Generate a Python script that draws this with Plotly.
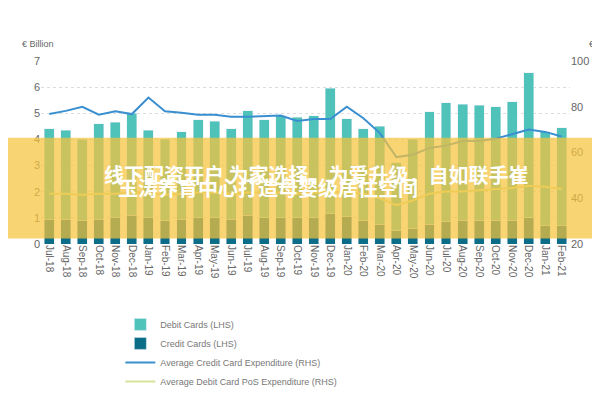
import plotly.graph_objects as go

months = ["Jul-18","Aug-18","Sep-18","Oct-18","Nov-18","Dec-18","Jan-19","Feb-19","Mar-19","Apr-19","May-19","Jun-19",
          "Jul-19","Aug-19","Sep-19","Oct-19","Nov-19","Dec-19","Jan-20","Feb-20","Mar-20","Apr-20","May-20","Jun-20",
          "Jul-20","Aug-20","Sep-20","Oct-20","Nov-20","Dec-20","Jan-21","Feb-21"]
total = [4.4,4.35,4.0,4.6,4.65,5.0,4.35,4.0,4.3,4.75,4.7,4.4,5.1,4.75,4.9,4.85,4.9,5.95,4.8,4.4,4.5,3.1,4.0,5.05,
         5.4,5.35,5.3,5.25,5.45,6.55,4.3,4.45]
credit = [0.95,0.95,0.9,0.95,1.0,1.1,1.0,0.9,0.95,1.0,1.0,0.95,1.1,1.0,1.0,1.0,1.0,1.15,1.05,0.9,0.75,0.5,0.6,0.75,
          0.85,0.9,0.9,0.9,0.9,1.0,0.7,0.7]
debit = [round(t - c, 2) for t, c in zip(total, credit)]
credit_exp = [76.8,78.2,80,76.5,78,76.8,84,78,77.4,76.5,76.5,75.6,75.6,75.8,76.2,73.8,74.6,74.6,80,75,68.5,58,59,62,
              63,65,65,66,68,70,69,67]
debit_exp = [42,42,41.5,42,42,42.5,42,41.5,42,42.5,42.5,42,42.5,42.5,42.5,42,42.5,43,42.5,42,40,37,39,42,
             43,43,43.5,44,44.5,45.5,45,44]

fig = go.Figure()
fig.add_bar(x=months, y=credit, name="Credit Cards (LHS)", marker_color="#0b6d88", width=0.6, legendrank=2)
fig.add_bar(x=months, y=debit, name="Debit Cards (LHS)", marker_color="#4fc2ba", width=0.6, legendrank=1)
fig.add_scatter(x=months, y=credit_exp, name="Average Credit Card Expenditure (RHS)", yaxis="y2",
                mode="lines", line=dict(color="#3a8fd0", width=2), legendrank=3)
fig.add_scatter(x=months, y=debit_exp, name="Average Debit Card PoS Expenditure (RHS)", yaxis="y2",
                mode="lines", line=dict(color="#d8e39a", width=2), legendrank=4)

fig.add_shape(type="rect", xref="paper", yref="paper", x0=-0.1, x1=1.1, y0=0.03, y1=0.58,
              fillcolor="rgba(247,196,60,0.72)", line_width=0, layer="above")
fig.add_annotation(text="<b>线下配资开户 为家选择、为爱升级，自如联手崔</b>", xref="paper", yref="paper", x=0.52, y=0.38,
                   showarrow=False, font=dict(family="Noto Sans CJK SC", size=20, color="white"))
fig.add_annotation(text="<b>玉涛养育中心打造母婴级居住空间</b>", xref="paper", yref="paper", x=0.43, y=0.22,
                   showarrow=False, font=dict(family="Noto Sans CJK SC", size=20, color="white"))
fig.add_annotation(text="€ Billion", xref="paper", yref="paper", x=-0.04, y=1.13, xanchor="left",
                   showarrow=False, font=dict(size=9, color="#666"))
fig.add_annotation(text="€", xref="paper", yref="paper", x=1.05, y=1.13, xanchor="right",
                   showarrow=False, font=dict(size=9, color="#666"))

fig.update_layout(
    width=600, height=400, barmode="stack", bargap=0.4,
    margin=dict(l=33, r=38, t=53, b=134),
    plot_bgcolor="white", paper_bgcolor="white",
    font=dict(family="Liberation Sans", color="#666"),
    xaxis=dict(tickangle=90, tickfont=dict(size=10), showgrid=False, ticks="", automargin=False),
    yaxis=dict(range=[0, 7], dtick=1, showgrid=True, gridcolor="#ddd", griddash="dot", zeroline=False,
               tickfont=dict(size=11), automargin=False),
    yaxis2=dict(range=[20, 100], dtick=20, overlaying="y", side="right", showgrid=False, tickfont=dict(size=11),
                automargin=False),
    legend=dict(orientation="h", x=0.15, y=-0.36, xanchor="left", yanchor="top", entrywidth=250,
                entrywidthmode="pixels", font=dict(size=9, color="#777"), traceorder="normal",
                tracegroupgap=0, itemwidth=30),
)
fig.write_html("out.html")
